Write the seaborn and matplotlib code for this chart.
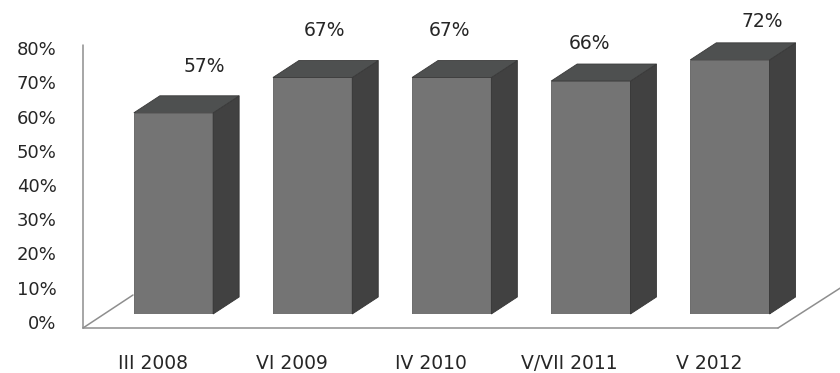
import numpy as np
import pandas as pd
import seaborn as sns
from matplotlib import pyplot as plt
from matplotlib.patches import Polygon
from matplotlib.transforms import ScaledTranslation

periods = ["III 2008", "VI 2009", "IV 2010", "V/VII 2011", "V 2012"]
share = [57, 67, 67, 66, 72]
y_ticks = [0, 10, 20, 30, 40, 50, 60, 70, 80]

# label nudges (pixels) so the % labels sit where Excel put them
label_dx = [31, 12, -2, -1, 32]
label_dy = [46, 47, 47, 38, 38]

front = "#747474"
side = "#414141"
top = "#4e5050"
line_col = "#8e8e8e"

sns.set_style("white")
plt.rcParams['font.family'] = ['DejaVu Sans']

W, H = 840, 373
fig = plt.figure(figsize=(W / 100, H / 100), dpi=100)

# background axis in pixels for the 3d walls
bg = fig.add_axes([0, 0, 1, 1])
bg.set_xlim(0, W)
bg.set_ylim(H, 0)
bg.axis('off')
bg.plot([83, 83], [45, 328], color=line_col, lw=1.1)
bg.plot([83, 778], [328, 328], color=line_col, lw=1.1)
bg.plot([83, 133], [328, 295], color=line_col, lw=1.1)
bg.plot([778, 845], [328, 285], color=line_col, lw=1.1)

# bar axis: 0% at bar base, 3.53 px per percent, 139 px per category
px_per_pct = 3.53
px_per_cat = 139.1
base = H - 314
ymax = 88
ax = fig.add_axes([0, base / H, 1, ymax * px_per_pct / H])
ax.patch.set_alpha(0)

df = pd.DataFrame({'period': periods, 'share': share})
sns.barplot(data=df, x='period', y='share', color=front, width=0.57,
            saturation=1, edgecolor='#606060', linewidth=0.6, ax=ax)
ax.set_xlim(-173.5 / px_per_cat, (W - 173.5) / px_per_cat)
ax.set_ylim(0, ymax)

# fake depth: side and top faces from each bar
ddx = 26 / px_per_cat
ddy = 17 / px_per_pct
for p in ax.patches[:len(share)]:
    x0, y0 = p.get_x(), p.get_y()
    x1, y1 = x0 + p.get_width(), y0 + p.get_height()
    ax.add_patch(Polygon([(x1, y0), (x1 + ddx, y0 + ddy), (x1 + ddx, y1 + ddy), (x1, y1)],
                         closed=True, facecolor=side, edgecolor='#353535', lw=0.6, clip_on=False))
    ax.add_patch(Polygon([(x0, y1), (x0 + ddx, y1 + ddy), (x1 + ddx, y1 + ddy), (x1, y1)],
                         closed=True, facecolor=top, edgecolor='#3a3a3a', lw=0.6, clip_on=False))

for i, (p, v) in enumerate(zip(ax.patches[:len(share)], share)):
    ax.annotate(f"{v}%", (p.get_x() + p.get_width() / 2, v),
                xytext=(label_dx[i], label_dy[i]), textcoords='offset pixels',
                ha='center', va='center', fontsize=13.5, color='#262626',
                annotation_clip=False)

sns.despine(ax=ax, left=True, bottom=True)
ax.set_yticks([])
ax.set_xlabel('')
ax.set_ylabel('')
# pad is in points: ~29pt puts the labels' tops about 40 px under the bars
ax.tick_params(axis='x', length=0, pad=29, labelsize=13.5, labelcolor='#262626')
shift = ScaledTranslation(-21 / 100, 0, fig.dpi_scale_trans)
for lbl in ax.get_xticklabels():
    lbl.set_transform(lbl.get_transform() + shift)

# value axis labels
lab = fig.add_axes([62 / W, 51 / H, 0.01, 274 / H])
lab.patch.set_alpha(0)
lab.set_ylim(0, 80)
lab.set_yticks(y_ticks)
lab.set_yticklabels([f"{t}%" for t in y_ticks])
lab.set_xticks([])
lab.tick_params(axis='y', length=0, pad=4, labelsize=13, labelcolor='#262626')
sns.despine(ax=lab, left=True, bottom=True)

fig.savefig('out.png', dpi=100)
